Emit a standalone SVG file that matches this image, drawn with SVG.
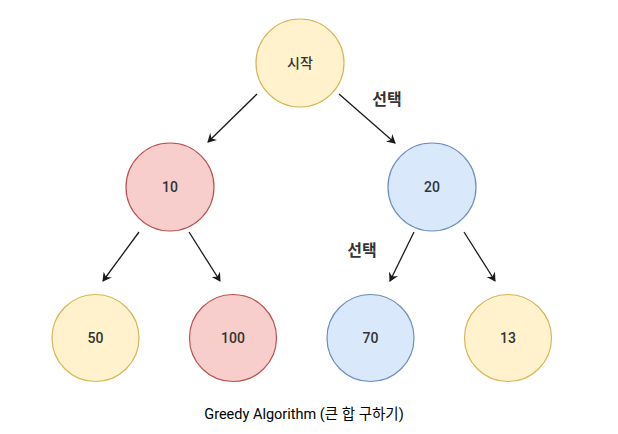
<svg xmlns="http://www.w3.org/2000/svg" width="618" height="434" viewBox="0 0 618 434">
<style>
.y{fill:#fff2cc;stroke:#d6b656;stroke-width:1.2}
.r{fill:#f8cecc;stroke:#b85450;stroke-width:1.2}
.b{fill:#dae8fc;stroke:#6c8ebf;stroke-width:1.2}
.t{font-family:"Roboto","Noto Sans CJK KR",sans-serif;font-size:14px;font-weight:500;fill:#333;text-anchor:middle;dominant-baseline:central}
.l{font-family:"Roboto","Noto Sans CJK KR",sans-serif;font-size:16px;font-weight:bold;fill:#333;text-anchor:middle;dominant-baseline:central}
.c{font-family:"Roboto","Noto Sans CJK KR",sans-serif;font-size:14.5px;fill:#000;text-anchor:middle;dominant-baseline:central}
.e{stroke:#1a1a1a;stroke-width:1.3;fill:none;marker-end:url(#a)}
</style>
<defs>
<marker id="a" markerWidth="10" markerHeight="10" refX="8" refY="5" orient="auto" markerUnits="userSpaceOnUse">
<path d="M0,0 L9,5 L0,10 L3,5 Z" fill="#1a1a1a"/>
</marker>
</defs>
<rect width="618" height="434" fill="#fff"/>
<g id="edges">
<line class="e" x1="257" y1="94" x2="208" y2="142"/>
<line class="e" x1="339" y1="94" x2="395" y2="143"/>
<line class="e" x1="139" y1="232" x2="103" y2="281"/>
<line class="e" x1="189" y1="232" x2="220" y2="281"/>
<line class="e" x1="414" y1="232" x2="390" y2="281"/>
<line class="e" x1="464" y1="232" x2="495" y2="281"/>
</g>
<g id="n-start"><circle class="y" cx="300" cy="63" r="44"/><text class="t" x="300" y="63">시작</text></g>
<g id="n-10"><circle class="r" cx="170" cy="187" r="44"/><text class="t" x="170" y="187">10</text></g>
<g id="n-20"><circle class="b" cx="432" cy="187" r="44"/><text class="t" x="432" y="187">20</text></g>
<g id="n-50"><circle class="y" cx="95.5" cy="338" r="43.5"/><text class="t" x="95.5" y="338">50</text></g>
<g id="n-100"><circle class="r" cx="233" cy="338" r="43.5"/><text class="t" x="233" y="338">100</text></g>
<g id="n-70"><circle class="b" cx="370.5" cy="338" r="43.5"/><text class="t" x="370.5" y="338">70</text></g>
<g id="n-13"><circle class="y" cx="508" cy="338" r="43.5"/><text class="t" x="508" y="338">13</text></g>
<g id="labels">
<text class="l" x="387" y="99">선택</text>
<text class="l" x="362" y="250">선택</text>
<text class="c" x="304" y="414">Greedy Algorithm (큰 합 구하기)</text>
</g>
</svg>
